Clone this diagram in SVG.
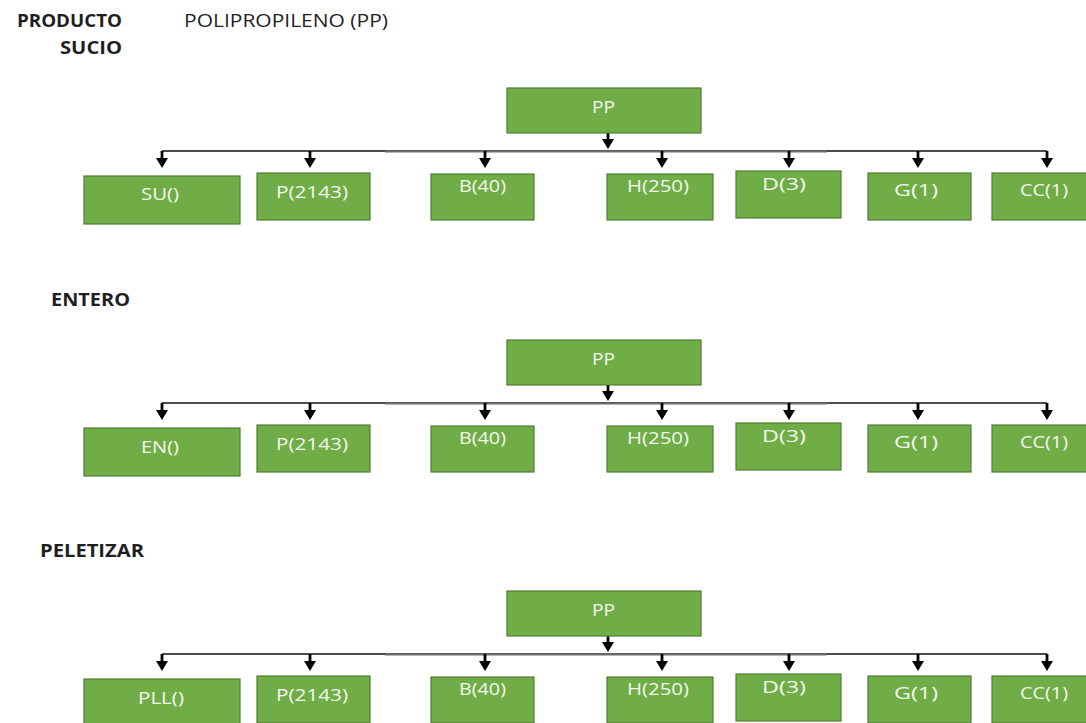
<svg xmlns="http://www.w3.org/2000/svg" width="1086" height="723" viewBox="0 0 1086 723">
  <style>
    .head { font-family: "Open Sans", "Liberation Sans", sans-serif; font-size: 18px; fill: #1f1f1f; }
    .bold { font-weight: bold; }
    .box rect { fill: #70ad47; stroke: #507e32; stroke-width: 1.2; }
    .box text { font-family: "Open Sans", "Liberation Sans", sans-serif; font-size: 16px; fill: #f4f8ee; }
    .bus { fill: none; stroke: #111; stroke-width: 1.5; }
    .bus-mid { fill: none; stroke: #6e6e6e; stroke-width: 2.2; }
    .stem { fill: none; stroke: #000; stroke-width: 2.8; marker-end: url(#ah); }
  </style>
  <defs>
    <marker id="ah" viewBox="0 0 10 12" markerWidth="10" markerHeight="12" refX="1" refY="6" orient="auto" markerUnits="userSpaceOnUse">
      <path d="M0,0 L10,6 L0,12 z" fill="#000"/>
    </marker>
  </defs>
  <rect width="1086" height="723" fill="#fff"/>

  <!-- headings -->
  <g id="titles">
    <text class="head bold" x="17" y="27" textLength="105" lengthAdjust="spacingAndGlyphs">PRODUCTO</text>
    <text class="head bold" x="60" y="54" textLength="62" lengthAdjust="spacingAndGlyphs">SUCIO</text>
    <text class="head" x="184" y="27" textLength="204" lengthAdjust="spacingAndGlyphs">POLIPROPILENO (PP)</text>
    <text class="head bold" x="51" y="306" textLength="79" lengthAdjust="spacingAndGlyphs">ENTERO</text>
    <text class="head bold" x="40" y="557" textLength="104" lengthAdjust="spacingAndGlyphs">PELETIZAR</text>
  </g>

  <!-- tree 1: producto sucio -->
  <g id="connectors-1">
    <path class="bus" d="M162,151 H1047"/>
    <path class="bus-mid" d="M385,151.5 H827"/>
    <path class="stem" d="M608,133 V140"/>
    <path class="stem" d="M162,151 V159"/>
    <path class="stem" d="M310,151 V159"/>
    <path class="stem" d="M485,151 V159"/>
    <path class="stem" d="M662,151 V159"/>
    <path class="stem" d="M789,151 V159"/>
    <path class="stem" d="M918,151 V159"/>
    <path class="stem" d="M1047,151 V159"/>
  </g>
  <g id="pp-1" class="box"><rect x="507" y="88" width="194" height="45"/><text x="592" y="113" textLength="23" lengthAdjust="spacingAndGlyphs">PP</text></g>
  <g id="su-1" class="box"><rect x="84" y="176" width="156" height="48"/><text x="141" y="200" textLength="38" lengthAdjust="spacingAndGlyphs">SU()</text></g>
  <g id="p-1" class="box"><rect x="257" y="173" width="113" height="47"/><text x="276" y="198" textLength="72" lengthAdjust="spacingAndGlyphs">P(2143)</text></g>
  <g id="b-1" class="box"><rect x="431" y="174" width="103" height="46"/><text x="459" y="192" textLength="47" lengthAdjust="spacingAndGlyphs">B(40)</text></g>
  <g id="h-1" class="box"><rect x="607" y="174" width="106" height="46"/><text x="627" y="192" textLength="62" lengthAdjust="spacingAndGlyphs">H(250)</text></g>
  <g id="d-1" class="box"><rect x="736" y="171" width="105" height="47"/><text x="762" y="190" textLength="44" lengthAdjust="spacingAndGlyphs">D(3)</text></g>
  <g id="g-1" class="box"><rect x="868" y="173" width="103" height="47"/><text x="894" y="196" textLength="44" lengthAdjust="spacingAndGlyphs">G(1)</text></g>
  <g id="cc-1" class="box"><rect x="992" y="173" width="105" height="47"/><text x="1020" y="196" textLength="48" lengthAdjust="spacingAndGlyphs">CC(1)</text></g>

  <!-- tree 2: entero -->
  <g id="connectors-2" transform="translate(0,252)">
    <path class="bus" d="M162,151 H1047"/>
    <path class="bus-mid" d="M385,151.5 H827"/>
    <path class="stem" d="M608,133 V140"/>
    <path class="stem" d="M162,151 V159"/>
    <path class="stem" d="M310,151 V159"/>
    <path class="stem" d="M485,151 V159"/>
    <path class="stem" d="M662,151 V159"/>
    <path class="stem" d="M789,151 V159"/>
    <path class="stem" d="M918,151 V159"/>
    <path class="stem" d="M1047,151 V159"/>
  </g>
  <g transform="translate(0,252)">
    <g id="pp-2" class="box"><rect x="507" y="88" width="194" height="45"/><text x="592" y="113" textLength="23" lengthAdjust="spacingAndGlyphs">PP</text></g>
    <g id="en-2" class="box"><rect x="84" y="176" width="156" height="48"/><text x="141" y="201" textLength="38" lengthAdjust="spacingAndGlyphs">EN()</text></g>
    <g id="p-2" class="box"><rect x="257" y="173" width="113" height="47"/><text x="276" y="198" textLength="72" lengthAdjust="spacingAndGlyphs">P(2143)</text></g>
    <g id="b-2" class="box"><rect x="431" y="174" width="103" height="46"/><text x="459" y="192" textLength="47" lengthAdjust="spacingAndGlyphs">B(40)</text></g>
    <g id="h-2" class="box"><rect x="607" y="174" width="106" height="46"/><text x="627" y="192" textLength="62" lengthAdjust="spacingAndGlyphs">H(250)</text></g>
    <g id="d-2" class="box"><rect x="736" y="171" width="105" height="47"/><text x="762" y="190" textLength="44" lengthAdjust="spacingAndGlyphs">D(3)</text></g>
    <g id="g-2" class="box"><rect x="868" y="173" width="103" height="47"/><text x="894" y="196" textLength="44" lengthAdjust="spacingAndGlyphs">G(1)</text></g>
    <g id="cc-2" class="box"><rect x="992" y="173" width="105" height="47"/><text x="1020" y="196" textLength="48" lengthAdjust="spacingAndGlyphs">CC(1)</text></g>
  </g>

  <!-- tree 3: peletizar -->
  <g id="connectors-3" transform="translate(0,503)">
    <path class="bus" d="M162,151 H1047"/>
    <path class="bus-mid" d="M385,151.5 H827"/>
    <path class="stem" d="M608,133 V140"/>
    <path class="stem" d="M162,151 V159"/>
    <path class="stem" d="M310,151 V159"/>
    <path class="stem" d="M485,151 V159"/>
    <path class="stem" d="M662,151 V159"/>
    <path class="stem" d="M789,151 V159"/>
    <path class="stem" d="M918,151 V159"/>
    <path class="stem" d="M1047,151 V159"/>
  </g>
  <g transform="translate(0,503)">
    <g id="pp-3" class="box"><rect x="507" y="88" width="194" height="45"/><text x="592" y="113" textLength="23" lengthAdjust="spacingAndGlyphs">PP</text></g>
    <g id="pll-3" class="box"><rect x="84" y="176" width="156" height="48"/><text x="138" y="201" textLength="46" lengthAdjust="spacingAndGlyphs">PLL()</text></g>
    <g id="p-3" class="box"><rect x="257" y="173" width="113" height="47"/><text x="276" y="198" textLength="72" lengthAdjust="spacingAndGlyphs">P(2143)</text></g>
    <g id="b-3" class="box"><rect x="431" y="174" width="103" height="46"/><text x="459" y="192" textLength="47" lengthAdjust="spacingAndGlyphs">B(40)</text></g>
    <g id="h-3" class="box"><rect x="607" y="174" width="106" height="46"/><text x="627" y="192" textLength="62" lengthAdjust="spacingAndGlyphs">H(250)</text></g>
    <g id="d-3" class="box"><rect x="736" y="171" width="105" height="47"/><text x="762" y="190" textLength="44" lengthAdjust="spacingAndGlyphs">D(3)</text></g>
    <g id="g-3" class="box"><rect x="868" y="173" width="103" height="47"/><text x="894" y="196" textLength="44" lengthAdjust="spacingAndGlyphs">G(1)</text></g>
    <g id="cc-3" class="box"><rect x="992" y="173" width="105" height="47"/><text x="1020" y="196" textLength="48" lengthAdjust="spacingAndGlyphs">CC(1)</text></g>
  </g>
</svg>
